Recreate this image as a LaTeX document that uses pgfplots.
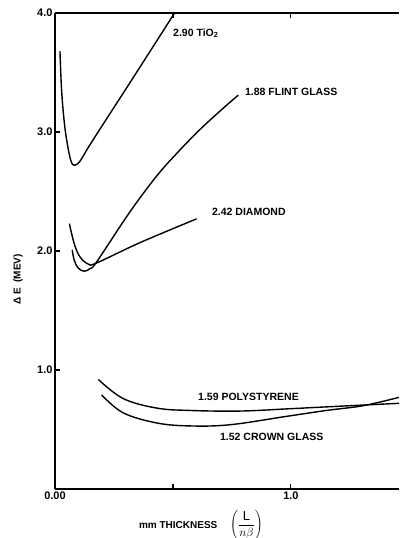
\documentclass[border=0pt]{standalone}
\usepackage{fontspec}
\setmainfont{Liberation Sans}
\usepackage{pgfplots}
\pgfplotsset{compat=1.18}
\tikzset{curve/.style={black, line width=1.4pt, smooth, tension=0.6, mark=none}}
\begin{document}
\begin{tikzpicture}
\begin{axis}[
  name=ax,
  scale only axis,
  width=344pt, height=476pt,
  xmin=0, xmax=1.458, ymin=0, ymax=4,
  axis x line*=box, axis y line*=left,
  axis line style={line width=1.6pt},
  tick align=inside,
  major tick length=5pt,
  tick style={line width=1.1pt,black},
  xtick={0,0.5,1.0}, xticklabels={0.00,,1.0},
  ytick={1,2,3,4}, yticklabels={1.0,2.0,3.0,4.0},
  ticklabel style={font=\bfseries\fontsize{11}{13}\selectfont},
  xticklabel style={yshift=1pt},
  yticklabel style={xshift=1pt},
  every axis y label/.style={at={(axis description cs:-0.1076,0.44)},rotate=90,anchor=center,font=\bfseries\fontsize{10}{12}\selectfont},
  every axis x label/.style={at={(axis description cs:0.424,-0.076)},anchor=center,font=\bfseries\fontsize{10}{12}\selectfont},
  ylabel={Δ E \ (MEV)},
  xlabel={mm THICKNESS \quad {\fontsize{13}{15}\selectfont$\left(\displaystyle\frac{\mathrm{L}}{n\beta}\right)$}},
  clip=true,
]
% 2.90 TiO2
\addplot[curve] coordinates {(0.021,3.68) (0.028,3.35) (0.040,3.07) (0.054,2.88) (0.068,2.755) (0.082,2.72) (0.106,2.755) (0.141,2.87) (0.212,3.09) (0.339,3.48) (0.51,4.01)};
% 1.88 flint glass
\addplot[curve] coordinates {(0.073,2.01) (0.082,1.92) (0.099,1.855) (0.125,1.83) (0.150,1.855) (0.177,1.91) (0.318,2.33) (0.431,2.63) (0.516,2.82) (0.614,3.02) (0.713,3.20) (0.777,3.31)};
% 2.42 diamond
\addplot[curve] coordinates {(0.061,2.23) (0.070,2.15) (0.085,2.04) (0.106,1.95) (0.141,1.89) (0.177,1.90) (0.36,2.07) (0.60,2.27)};
% 1.59 polystyrene
\addplot[curve] coordinates {(0.184,0.92) (0.289,0.76) (0.431,0.68) (0.572,0.66) (0.784,0.655) (1.0,0.675) (1.2,0.695) (1.458,0.72)};
% 1.52 crown glass
\addplot[curve] coordinates {(0.198,0.79) (0.289,0.64) (0.431,0.555) (0.572,0.53) (0.742,0.54) (0.98,0.61) (1.15,0.66) (1.306,0.70) (1.458,0.77)};
\begin{scope}[every node/.style={anchor=west, inner sep=0pt, font=\bfseries\fontsize{10.5}{12}\selectfont}]
\node at (axis cs:0.50,3.83) {2.90 TiO\textsubscript{2}};
\node at (axis cs:0.805,3.336) {1.88 FLINT GLASS};
\node at (axis cs:0.665,2.328) {2.42 DIAMOND};
\node at (axis cs:0.606,0.773) {1.59 POLYSTYRENE};
\node at (axis cs:0.699,0.437) {1.52 CROWN GLASS};
\end{scope}
\end{axis}
\pgfresetboundingbox
\path ([xshift=-55pt,yshift=-49pt]ax.south west) rectangle ([yshift=13pt]ax.north east);
\end{tikzpicture}
\end{document}
